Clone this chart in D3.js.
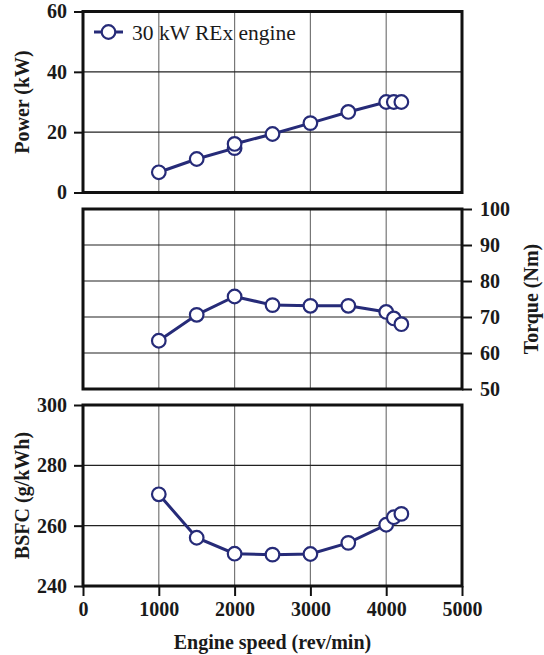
<!DOCTYPE html>
<html>
<head>
<meta charset="utf-8">
<script src="https://cdn.jsdelivr.net/npm/d3@7"></script>
<style>
  body { margin: 0; background: #fff; }
  svg text { font-family: "Liberation Serif", "DejaVu Serif", serif; }
</style>
</head>
<body>
<div class="canvas"></div>
<script>
// data
const speed = [1000, 1500, 2000, 2500, 3000, 3500, 4000, 4100, 4200]
// power has two readings at 2000 rev/min
const powerSpeed = [1000, 1500, 2000, 2000, 2500, 3000, 3500, 4000, 4100, 4200]
const power = [6.7, 11.1, 14.7, 16.1, 19.4, 23.0, 26.7, 30.0, 30.0, 30.0]
const torque = [63.4, 70.6, 75.7, 73.3, 73.1, 73.1, 71.4, 69.6, 68.0]
const bsfc = [270.4, 256.0, 250.7, 250.4, 250.6, 254.3, 260.3, 262.8, 263.9]

const speedTicks = [0, 1000, 2000, 3000, 4000, 5000]
const powerTicks = [0, 20, 40, 60]
const torqueTicks = [50, 60, 70, 80, 90, 100]
const bsfcTicks = [240, 260, 280, 300]

const seriesName = "30 kW REx engine"
const navy = "#262b78"

/**
 * Dimensions
 */
const dims = { width: 544, height: 655 }
const svg = d3.select(".canvas")
    .append("svg")
    .attr("width", dims.width)
    .attr("height", dims.height)

const x = d3.scaleLinear().domain([0, 5000]).range([83, 462])

const panels = [
    { y: d3.scaleLinear().domain([0, 60]).range([192.5, 11.5]), ticks: powerTicks,
      xs: powerSpeed, vals: power, title: "Power (kW)", side: "left" },
    { y: d3.scaleLinear().domain([50, 100]).range([389, 209]), ticks: torqueTicks,
      xs: speed, vals: torque, title: "Torque (Nm)", side: "right" },
    { y: d3.scaleLinear().domain([240, 300]).range([586, 405]), ticks: bsfcTicks,
      xs: speed, vals: bsfc, title: "BSFC (g/kWh)", side: "left" }
]

const styleTicks = sel => {
    sel.select(".domain").remove()
    sel.attr("font-family", null)
    sel.selectAll("line").attr("stroke", "#111").attr("stroke-width", 2)
    sel.selectAll("text")
        .attr("font-size", 20).attr("font-weight", "bold").attr("fill", "#1a1a1a")
}

panels.forEach((p, i) => {
    const g = svg.append("g")
    const [y0, y1] = p.y.range()

    // vertical grid
    g.selectAll(".vgrid")
        .data([1000, 2000, 3000, 4000])
        .enter().append("line")
        .attr("x1", d => x(d)).attr("x2", d => x(d))
        .attr("y1", y1).attr("y2", y0)
        .attr("stroke", "#777").attr("stroke-width", 1.2)

    // horizontal grid
    g.selectAll(".hgrid")
        .data(p.ticks.slice(1, -1))
        .enter().append("line")
        .attr("x1", x(0)).attr("x2", x(5000))
        .attr("y1", d => p.y(d)).attr("y2", d => p.y(d))
        .attr("stroke", "#222").attr("stroke-width", 1.2)

    // y axis
    const yAxis = p.side === "left"
        ? d3.axisLeft(p.y).tickValues(p.ticks).tickFormat(d3.format("d")).tickSize(9).tickPadding(7)
        : d3.axisRight(p.y).tickValues(p.ticks).tickFormat(d3.format("d")).tickSize(10).tickPadding(8)
    g.append("g")
        .attr("transform", `translate(${p.side === "left" ? x(0) : x(5000)},0)`)
        .call(yAxis)
        .call(styleTicks)

    // x axis on bottom panel only
    if (i === 2) {
        g.append("g")
            .attr("transform", `translate(0,${y0})`)
            .call(d3.axisBottom(x).tickValues(speedTicks).tickFormat(d3.format("d")).tickSize(10).tickPadding(6))
            .call(styleTicks)
    }

    // frame
    g.append("rect")
        .attr("x", x(0)).attr("y", y1)
        .attr("width", x(5000) - x(0)).attr("height", y0 - y1)
        .attr("fill", "none").attr("stroke", "#111").attr("stroke-width", 3)

    // series line
    const pts = p.xs.map((s, k) => [s, p.vals[k]])
    g.append("path")
        .datum(pts)
        .attr("fill", "none").attr("stroke", navy).attr("stroke-width", 3)
        .attr("d", d3.line().x(d => x(d[0])).y(d => p.y(d[1])))

    g.selectAll(".pt")
        .data(pts)
        .enter().append("circle")
        .attr("cx", d => x(d[0])).attr("cy", d => p.y(d[1]))
        .attr("r", 6.8)
        .attr("fill", "#fff").attr("stroke", navy).attr("stroke-width", 2.2)

    // axis title
    const tx = p.side === "left" ? 22 : 531
    svg.append("text")
        .attr("transform", `translate(${tx},${(y0 + y1) / 2}) rotate(-90)`)
        .attr("text-anchor", "middle")
        .attr("dy", "0.35em")
        .attr("font-size", 20).attr("font-weight", "bold").attr("fill", "#1a1a1a")
        .text(p.title)
})

// x axis title
svg.append("text")
    .attr("x", (x(0) + x(5000)) / 2).attr("y", 649)
    .attr("text-anchor", "middle")
    .attr("font-size", 20).attr("font-weight", "bold").attr("fill", "#1a1a1a")
    .text("Engine speed (rev/min)")

// legend
const legend = svg.append("g").attr("transform", "translate(94,32)")
legend.append("line")
    .attr("x1", 0).attr("x2", 29)
    .attr("stroke", navy).attr("stroke-width", 3)
legend.append("circle")
    .attr("cx", 14.5).attr("r", 6.8)
    .attr("fill", "#fff").attr("stroke", navy).attr("stroke-width", 2.2)
legend.append("text")
    .attr("x", 38).attr("dy", "0.35em")
    .attr("font-size", 21.5).attr("fill", "#1a1a1a")
    .text(seriesName)
</script>
</body>
</html>
